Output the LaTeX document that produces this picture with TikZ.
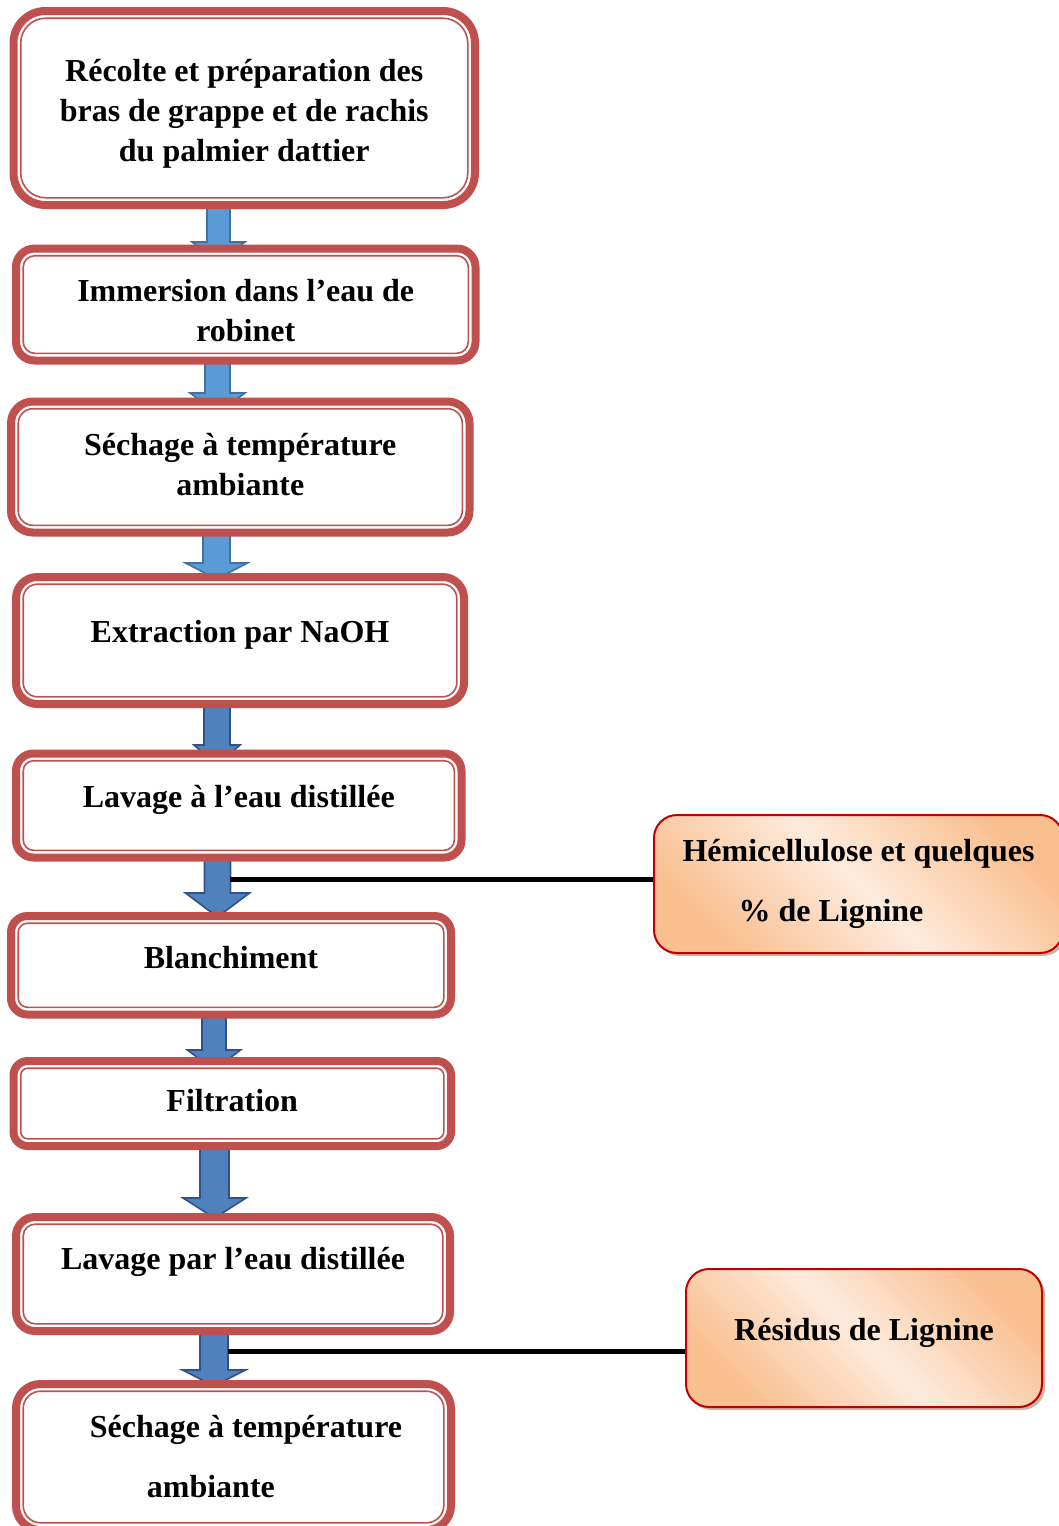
\documentclass[tikz,border=0pt]{standalone}
\usepackage{fontspec}
\setmainfont{Liberation Serif}
\usetikzlibrary{calc,shadows,backgrounds}

\definecolor{boxred}{HTML}{C0504D}
\definecolor{sidered}{HTML}{C00000}
\definecolor{peachdark}{HTML}{F9BF8F}
\definecolor{peachlight}{HTML}{FDEBDD}
\definecolor{arrowlight}{HTML}{5B9BD5}
\definecolor{arrowlightrim}{HTML}{41719C}
\definecolor{arrowdark}{HTML}{4F81BD}
\definecolor{arrowdarkrim}{HTML}{2F528F}

\begin{document}
\begin{tikzpicture}[x=0.5pt,y=-0.5pt,
    stepbox/.style={draw=boxred, line width=4pt, fill=white, inner sep=0pt, outer sep=0pt,
      align=center, font=\bfseries\fontsize{16}{20}\selectfont},
    oneline/.style={text height=12pt, text depth=#1},
    innerline/.style={draw=boxred, line width=0.8pt},
    sidebox/.style={draw=sidered, line width=1pt, rounded corners=11.5pt, inner sep=0pt,
      top color=peachdark, bottom color=peachdark, middle color=peachlight, shading angle=-45,
      drop shadow={shadow xshift=1.5pt, shadow yshift=-1.5pt, fill=brown!70!black, opacity=.45},
      font=\bfseries\fontsize{16}{20}\selectfont},
    lightarrow/.style={fill=arrowlight, draw=arrowlightrim, line width=0.8pt},
    darkarrow/.style={fill=arrowdark, draw=arrowdarkrim, line width=0.8pt},
    linkline/.style={line width=2.5pt, black}]
\useasboundingbox (0,0) rectangle (1059,1526);
\clip (0,0) rectangle (1059,1526);

% main column
\node[stepbox, rounded corners=16pt, minimum width=230.75pt, minimum height=97pt] (b1) at (244.25,108)
  {\rule{0pt}{16.5pt}Récolte et préparation des\\bras de grappe et de rachis\\du palmier dattier};
\node[stepbox, rounded corners=9.3pt, minimum width=229.75pt, minimum height=56pt] (b2) at (245.75,304.5)
  {\rule{0pt}{17pt}Immersion dans l’eau de\\robinet};
\node[stepbox, rounded corners=10.9pt, minimum width=229.25pt, minimum height=65.5pt] (b3) at (240.25,467)
  {Séchage à température\\ambiante\rule[-3pt]{0pt}{0pt}};
\node[stepbox, oneline=10.5pt, rounded corners=10.6pt, minimum width=224pt, minimum height=63.5pt] (b4) at (240,640.5)
  {Extraction par NaOH};
\node[stepbox, oneline=10.5pt, rounded corners=8.7pt, minimum width=222.75pt, minimum height=52pt] (b5) at (238.75,805.5)
  {Lavage à l’eau distillée};
\node[stepbox, oneline=9.2pt, rounded corners=8.2pt, minimum width=220pt, minimum height=49.25pt] (b6) at (231,965.25)
  {Blanchiment};
\node[stepbox, oneline=4.5pt, rounded corners=7.1pt, minimum width=218.75pt, minimum height=42.5pt] (b7) at (232.25,1103.5)
  {Filtration};
\node[stepbox, oneline=17pt, rounded corners=9.5pt, minimum width=217pt, minimum height=57pt] (b8) at (233,1274)
  {Lavage par l’eau distillée};
\node[stepbox, align=left, rounded corners=12.2pt, minimum width=217.5pt, minimum height=73pt] (b9) at (233.5,1457)
  {\hspace*{12.5pt}Séchage à température\\[10pt]\hspace*{41pt}ambiante};

% thin inner line of each frame
\foreach \n/\r in {b1/12.5,b2/5.8,b3/7.4,b4/7.1,b5/5.2,b6/4.7,b7/3.6,b8/6,b9/8.7}
  \draw[innerline, rounded corners=\r pt] ([shift={(3.6pt,-3.6pt)}]\n.north west)
    rectangle ([shift={(-3.6pt,3.6pt)}]\n.south east);

% block arrows behind the frames
\begin{scope}[on background layer]
\foreach \a/\b/\xc/\sw/\hw/\bs/\hl/\sty in {
    b1/b2/218.5/11.5/26.5/-6.5/20/lightarrow,
    b2/b3/217.5/12.5/27.5/-8.5/20/lightarrow,
    b3/b4/216.5/13.5/31/-14/16/lightarrow,
    b4/b5/217/13/23/-8.5/20/darkarrow,
    b5/b6/217.5/13/32/-23/24/darkarrow,
    b6/b7/214/12/26.5/-11/20/darkarrow,
    b7/b8/214.5/14.5/31.5/-19/20/darkarrow,
    b8/b9/214/14/31.5/-14/16/darkarrow}
  \draw[\sty] let \p1=(\a.south), \p2=(\b.north),
      \n1={\xc*0.5pt}, \n2={\sw*0.5pt}, \n3={\hw*0.5pt},
      \n4={\y2-(\bs)*0.5pt}, \n5={\y2-(\bs+\hl)*0.5pt} in
    (\n1-\n2,\y1) -- (\n1+\n2,\y1) -- (\n1+\n2,\n4) -- (\n1+\n3,\n4)
    -- (\n1,\n5) -- (\n1-\n3,\n4) -- (\n1-\n2,\n4) -- cycle;
\end{scope}

% side products
\coordinate (j1) at (230,879);
\coordinate (j2) at (228,1351);
\node[sidebox, align=left, minimum width=204.5pt, minimum height=69pt] (h1) at (858.5,884)
  {Hémicellulose et quelques\\[10pt]\hspace*{28pt}\% de Lignine};
\node[sidebox, oneline=10pt, minimum width=178pt, minimum height=69pt] (h2) at (864,1338)
  {Résidus de Lignine};
\draw[linkline] (j1) -- (j1 -| h1.west);
\draw[linkline] (j2) -- (j2 -| h2.west);
\end{tikzpicture}
\end{document}
